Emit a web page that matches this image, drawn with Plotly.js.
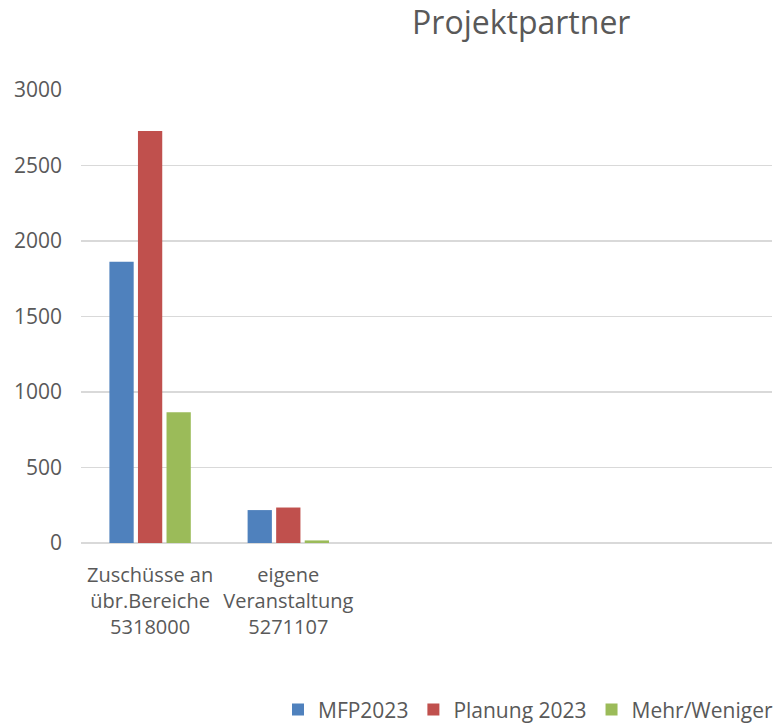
<!DOCTYPE html>
<html>
<head>
<meta charset="utf-8">
<script src="https://cdn.plot.ly/plotly-3.0.1.min.js"></script>
<style>html,body{margin:0;padding:0;background:#fff;}#chart{width:778px;height:728px;}</style>
</head>
<body>
<div id="chart"></div>
<script>
const categories = ["Zuschüsse an<br>übr.Bereiche<br>5318000", "eigene<br>Veranstaltung<br>5271107"];
const seriesNames = ["MFP2023", "Planung 2023", "Mehr/Weniger"];
const mfp2023 = [1862, 218];
const planung2023 = [2728, 235];
const mehrWeniger = [866, 17];
const yTicks = [0, 500, 1000, 1500, 2000, 2500, 3000];
const colors = ["#4f81bd", "#c0504d", "#9bbb59"];

const values = [mfp2023, planung2023, mehrWeniger];
const traces = values.map((v, i) => ({
  type: "bar",
  x: categories,
  y: v,
  name: seriesNames[i],
  marker: {color: colors[i]},
  hoverinfo: "none"
}));

const font = "'Open Sans', 'Noto Sans', sans-serif";
const layout = {
  width: 778, height: 728,
  margin: {l: 81, r: 6, t: 90, b: 185},
  paper_bgcolor: "#fff", plot_bgcolor: "#fff",
  barmode: "group",
  bargap: 0.38,
  bargroupgap: 0.15,
  title: {text: "Projektpartner", font: {family: font, size: 32, color: "#595959"}, x: 0.67, xanchor: "center", xref: "container", y: 0.968, yanchor: "middle", yref: "container"},
  xaxis: {type: "category", range: [-0.5, 4.5], showgrid: false, zeroline: false, showline: false, ticks: "",
          tickfont: {family: font, size: 20, color: "#595959"}, tickangle: 0, fixedrange: true, ticklabelstandoff: 18},
  yaxis: {range: [0, 3000], tickvals: yTicks, ticktext: yTicks.map(String), showgrid: true, gridcolor: "#d9d9d9", gridwidth: 1.5,
          zeroline: true, zerolinecolor: "#d9d9d9", zerolinewidth: 1.5, showline: false, ticks: "",
          tickfont: {family: font, size: 21, color: "#595959"}, ticklabelstandoff: 18},
  showlegend: true,
  legend: {orientation: "h", x: 1, xanchor: "right", xref: "container", y: 0.025, yanchor: "middle", yref: "container",
           font: {family: font, size: 21, color: "#595959"}, traceorder: "normal", itemwidth: 30}
};
Plotly.newPlot("chart", traces, layout, {displayModeBar: false, staticPlot: true});
</script>
</body>
</html>
